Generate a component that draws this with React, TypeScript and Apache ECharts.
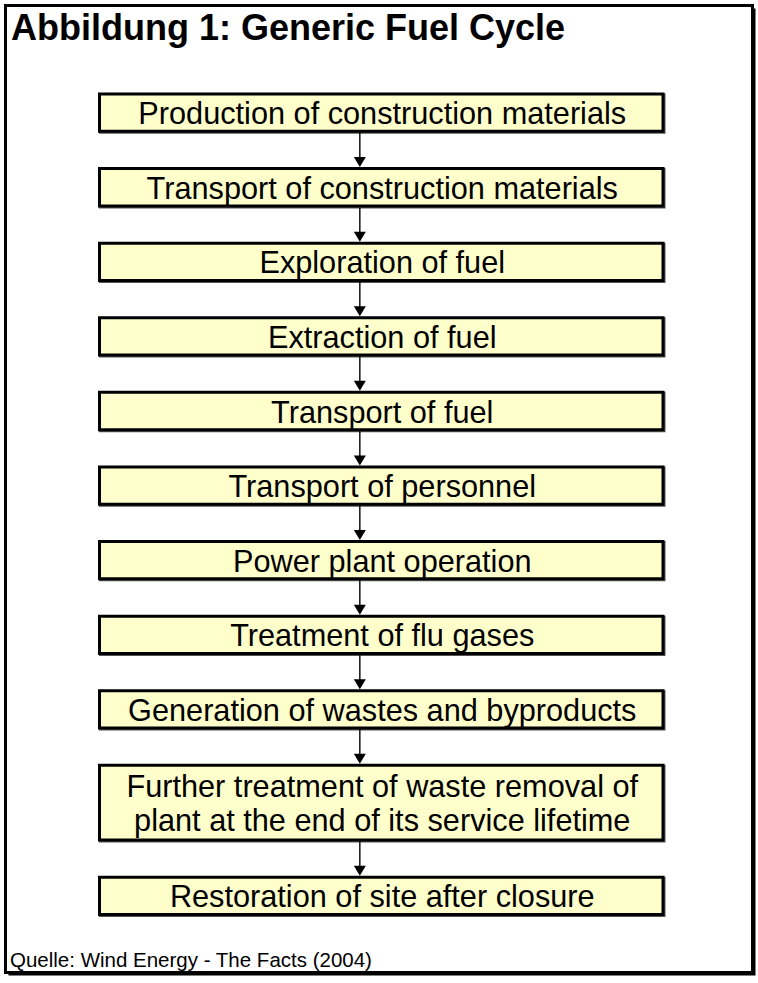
import React, { useEffect, useRef } from "react";
import * as echarts from "echarts";

const chartTitle = "Abbildung 1: Generic Fuel Cycle";
const sourceNote = "Quelle: Wind Energy - The Facts (2004)";

const steps = [
  "Production of construction materials",
  "Transport of construction materials",
  "Exploration of fuel",
  "Extraction of fuel",
  "Transport of fuel",
  "Transport of personnel",
  "Power plant operation",
  "Treatment of flu gases",
  "Generation of wastes and byproducts",
  "Further treatment of waste removal of\nplant at the end of its service lifetime",
  "Restoration of site after closure",
];
// number of text lines (box height in row units)
const stepLines = [1, 1, 1, 1, 1, 1, 1, 1, 1, 2, 1];
// gap between boxes in row units
const stepGap = 1;

const FONT = '"Liberation Sans", Arial, Helvetica, sans-serif';

export default function App() {
  const ref = useRef<HTMLDivElement>(null);

  useEffect(() => {
    if (!ref.current) return;
    const chart = echarts.init(ref.current, undefined, { renderer: "svg" });

    const starts: number[] = [];
    let acc = 0;
    stepLines.forEach((l) => {
      starts.push(acc);
      acc += l + stepGap;
    });
    const total = acc - stepGap;
    const data = steps.map((_, i) => [
      i,
      starts[i],
      starts[i] + stepLines[i],
      i < steps.length - 1 ? starts[i + 1] : starts[i] + stepLines[i],
    ]);

    chart.setOption({
      animation: false,
      backgroundColor: "#ffffff",
      title: [
        {
          text: chartTitle,
          left: 11,
          top: 9,
          padding: 0,
          textStyle: { fontFamily: FONT, fontSize: 36, fontWeight: "bold", color: "#000" },
        },
        {
          text: sourceNote,
          left: 10,
          top: 949,
          padding: 0,
          textStyle: { fontFamily: FONT, fontSize: 20.5, fontWeight: "normal", color: "#000" },
        },
      ],
      graphic: [
        {
          type: "rect",
          z: -10,
          shape: { x: 8.5, y: 8.5, width: 747, height: 967 },
          style: { fill: "#000" },
          silent: true,
        },
        {
          type: "rect",
          z: -9,
          shape: { x: 5.5, y: 5.5, width: 747, height: 967 },
          style: { fill: "#fff", stroke: "#000", lineWidth: 3 },
          silent: true,
        },
      ],
      grid: { left: 99.5, right: 95, top: 94, bottom: 68.5 },
      xAxis: { type: "value", min: 0, max: 1, show: false },
      yAxis: { type: "value", min: 0, max: total, inverse: true, show: false },
      series: [
        {
          type: "custom",
          z: 5,
          data,
          renderItem: (params: any, api: any) => {
            const i = params.dataIndex;
            const s = api.value(1);
            const e = api.value(2);
            const nxt = api.value(3);
            const p0 = api.coord([0, s]);
            const p1 = api.coord([1, e]);
            const x = p0[0];
            const y = p0[1];
            const w = p1[0] - p0[0];
            const h = p1[1] - p0[1];
            const children: any[] = [
              {
                type: "rect",
                shape: { x: x + 1, y: y + 1, width: w, height: h },
                style: { fill: "none", stroke: "#555", lineWidth: 3 },
              },
              {
                type: "rect",
                shape: { x, y, width: w, height: h },
                style: { fill: "#FFFFCC", stroke: "#000", lineWidth: 3 },
              },
              {
                type: "text",
                x: x + w / 2 + 1,
                y: y + h / 2 + 1,
                style: {
                  text: steps[i],
                  fontFamily: FONT,
                  fontSize: 30.7,
                  lineHeight: 34,
                  fill: "#000",
                  align: "center",
                  verticalAlign: "middle",
                },
              },
            ];
            if (i < steps.length - 1) {
              const ax = x + w * 0.462;
              const y1 = p1[1] + 1.5;
              const y2 = api.coord([0, nxt])[1] - 1.5;
              children.push(
                {
                  type: "line",
                  shape: { x1: ax, y1, x2: ax, y2: y2 - 9 },
                  style: { stroke: "#000", lineWidth: 1.4 },
                },
                {
                  type: "polygon",
                  shape: { points: [[ax - 6, y2 - 10], [ax + 6, y2 - 10], [ax, y2]] },
                  style: { fill: "#000" },
                }
              );
            }
            return { type: "group", children };
          },
        },
      ],
    });

    return () => chart.dispose();
  }, []);

  return (
    <div
      ref={ref}
      style={{ position: "absolute", left: 0, top: 0, width: 758, height: 983 }}
    />
  );
}
